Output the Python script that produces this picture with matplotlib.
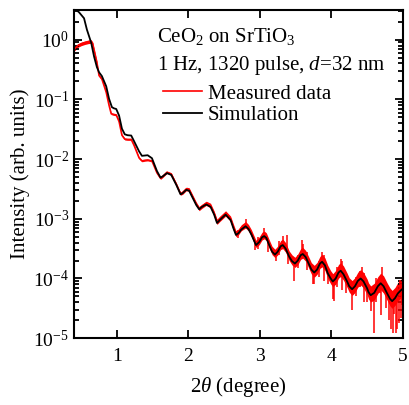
import matplotlib
matplotlib.use('Agg')
from matplotlib import pyplot as plt
from matplotlib.lines import Line2D
import numpy as np

# simulated curve, 2theta (deg) and log10(intensity)
sim_x = [0.40, 0.47, 0.54, 0.58, 0.64, 0.68, 0.72, 0.75, 0.79, 0.85, 0.89, 0.93, 0.96, 0.99,
         1.03, 1.07, 1.11, 1.15, 1.20, 1.24, 1.31, 1.35, 1.39, 1.43, 1.49, 1.56, 1.61, 1.64,
         1.70, 1.76, 1.83, 1.89, 1.92, 1.97, 2.01, 2.06, 2.11, 2.15, 2.19, 2.25, 2.31, 2.36,
         2.40, 2.44, 2.52, 2.59, 2.63, 2.665, 2.70, 2.74, 2.80, 2.84, 2.88, 2.945, 2.99, 3.03,
         3.06, 3.09, 3.13, 3.17, 3.21, 3.25, 3.29, 3.32, 3.36, 3.41, 3.45, 3.49, 3.53, 3.57,
         3.60, 3.64, 3.69, 3.72, 3.76, 3.80, 3.84, 3.87, 3.91, 3.95, 3.99, 4.02, 4.06, 4.10,
         4.13, 4.17, 4.22, 4.25, 4.29, 4.33, 4.37, 4.41, 4.45, 4.50, 4.52, 4.55, 4.60, 4.65,
         4.69, 4.73, 4.78, 4.82, 4.85, 4.89, 4.93, 4.97, 5.00]
sim_logI = [0.53, 0.46, 0.36, 0.17, -0.05, -0.28, -0.46, -0.545, -0.61, -0.78, -0.99, -1.13, -1.15, -1.16,
            -1.27, -1.49, -1.585, -1.60, -1.605, -1.70, -1.87, -1.945, -1.94, -1.935, -1.985, -2.20, -2.31, -2.29,
            -2.235, -2.265, -2.43, -2.59, -2.57, -2.515, -2.53, -2.65, -2.77, -2.84, -2.80, -2.76, -2.80, -2.93,
            -3.07, -3.02, -2.93, -3.02, -3.16, -3.27, -3.24, -3.18, -3.125, -3.17, -3.26, -3.44, -3.39, -3.31,
            -3.29, -3.32, -3.44, -3.55, -3.60, -3.55, -3.46, -3.44, -3.50, -3.635, -3.71, -3.75, -3.70, -3.61,
            -3.59, -3.64, -3.77, -3.85, -3.90, -3.85, -3.75, -3.72, -3.78, -3.915, -4.00, -4.05, -4.00, -3.90,
            -3.87, -3.93, -4.05, -4.13, -4.18, -4.13, -4.04, -4.00, -4.05, -4.165, -4.23, -4.28, -4.24, -4.13,
            -4.08, -4.13, -4.25, -4.34, -4.38, -4.33, -4.25, -4.20, -4.17]

# measured data: centre of the red trace and its noise half-width (decades)
meas_x = [0.40, 0.45, 0.50, 0.55, 0.60, 0.64, 0.66, 0.68, 0.72, 0.75, 0.79, 0.85, 0.89, 0.92,
          0.95, 0.99, 1.03, 1.07, 1.11, 1.15, 1.20, 1.24, 1.31, 1.35, 1.39, 1.43, 1.49, 1.56,
          1.61, 1.64, 1.70, 1.76, 1.83, 1.89, 1.92, 1.97, 2.01, 2.06, 2.11, 2.15, 2.19, 2.25,
          2.31, 2.36, 2.40, 2.44, 2.52, 2.59, 2.63, 2.665, 2.70, 2.74, 2.80, 2.84, 2.88, 2.945,
          2.99, 3.03, 3.06, 3.09, 3.13, 3.17, 3.21, 3.25, 3.29, 3.32, 3.36, 3.41, 3.45, 3.49,
          3.53, 3.57, 3.60, 3.64, 3.69, 3.72, 3.76, 3.80, 3.84, 3.87, 3.91, 3.95, 3.99, 4.02,
          4.06, 4.10, 4.13, 4.17, 4.22, 4.25, 4.29, 4.33, 4.37, 4.41, 4.45, 4.50, 4.52, 4.55,
          4.60, 4.65, 4.69, 4.73, 4.78, 4.82, 4.85, 4.89, 4.93, 4.97, 5.00]
meas_logI = [-0.165, -0.10, -0.07, -0.05, -0.035, -0.03, -0.06, -0.165, -0.38, -0.60, -0.66, -0.88, -1.10, -1.24,
             -1.25, -1.26, -1.37, -1.60, -1.665, -1.67, -1.67, -1.77, -1.98, -2.03, -2.02, -2.015, -2.03, -2.23,
             -2.32, -2.29, -2.22, -2.25, -2.42, -2.58, -2.56, -2.50, -2.51, -2.63, -2.75, -2.83, -2.79, -2.74,
             -2.78, -2.91, -3.05, -3.00, -2.91, -3.00, -3.14, -3.25, -3.22, -3.15, -3.10, -3.15, -3.24, -3.42,
             -3.37, -3.29, -3.27, -3.30, -3.42, -3.53, -3.58, -3.53, -3.44, -3.42, -3.48, -3.62, -3.69, -3.73,
             -3.68, -3.59, -3.57, -3.62, -3.75, -3.83, -3.88, -3.83, -3.73, -3.70, -3.76, -3.89, -3.98, -4.03,
             -3.98, -3.88, -3.85, -3.91, -4.03, -4.11, -4.16, -4.11, -4.02, -3.98, -4.03, -4.14, -4.21, -4.26,
             -4.22, -4.11, -4.05, -4.10, -4.22, -4.31, -4.35, -4.30, -4.22, -4.17, -4.14]
meas_noise = [0.03, 0.03, 0.03, 0.03, 0.03, 0.03, 0.02, 0.015, 0.015, 0.015, 0.015, 0.015, 0.015, 0.015,
              0.015, 0.015, 0.015, 0.015, 0.015, 0.015, 0.015, 0.015, 0.015, 0.015, 0.015, 0.015, 0.015, 0.015,
              0.02, 0.02, 0.02, 0.02, 0.025, 0.025, 0.03, 0.03, 0.03, 0.03, 0.03, 0.035, 0.035, 0.035,
              0.04, 0.04, 0.045, 0.045, 0.045, 0.045, 0.05, 0.05, 0.05, 0.05, 0.055, 0.055, 0.06, 0.06,
              0.065, 0.065, 0.065, 0.065, 0.07, 0.07, 0.07, 0.075, 0.075, 0.08, 0.08, 0.08, 0.085, 0.085,
              0.09, 0.09, 0.09, 0.09, 0.095, 0.095, 0.10, 0.10, 0.10, 0.105, 0.105, 0.11, 0.11, 0.11,
              0.115, 0.115, 0.115, 0.12, 0.12, 0.12, 0.125, 0.125, 0.125, 0.13, 0.13, 0.13, 0.135, 0.135,
              0.14, 0.14, 0.14, 0.145, 0.145, 0.15, 0.15, 0.15, 0.155, 0.155, 0.155]

# noise spikes in the measured data: position, bottom, top (log10)
spike_x = [2.93, 3.22, 3.48, 3.76, 4.035, 4.29, 4.59, 4.69, 4.83, 4.90, 4.97,
           2.81, 3.06, 3.32, 3.60, 3.87, 4.13, 4.43, 4.71, 4.96, 4.45, 4.15, 3.90,
           2.70, 2.98, 3.12, 3.27, 3.38, 3.40, 3.54, 3.59, 3.66, 3.74, 3.82, 3.95, 4.02, 4.08,
           4.20, 4.34, 4.40, 4.50, 4.56, 4.63, 4.68, 4.76, 4.80, 4.86, 4.88, 4.92, 4.94, 4.99]
spike_lo = [-3.52, -3.70, -4.05, -4.10, -4.38, -4.53, -4.91, -4.62, -4.84, -4.91, -4.66,
            -3.15, -3.30, -3.45, -3.60, -3.75, -3.90, -4.02, -4.10, -4.30, -4.40, -4.20, -4.05,
            -3.32, -3.50, -3.55, -3.60, -3.50, -3.75, -3.82, -3.65, -3.85, -4.10, -3.98, -4.10, -4.35, -4.15,
            -4.25, -4.30, -4.15, -4.40, -4.55, -4.40, -4.25, -4.50, -4.70, -4.91, -4.60, -4.84, -4.75, -4.45]
spike_hi = [-3.40, -3.55, -3.70, -3.85, -4.00, -4.15, -4.25, -4.10, -4.30, -4.35, -4.10,
            -3.01, -3.16, -3.29, -3.42, -3.55, -3.67, -3.80, -3.80, -4.02, -3.90, -3.70, -3.60,
            -3.18, -3.30, -3.35, -3.38, -3.27, -3.52, -3.60, -3.36, -3.55, -3.85, -3.70, -3.82, -4.00, -3.80,
            -3.90, -3.98, -3.88, -4.05, -4.15, -4.00, -3.97, -4.10, -4.25, -4.30, -4.25, -4.35, -4.15, -4.05]

plt.rcParams['font.family'] = ['Liberation Serif', 'DejaVu Serif']
plt.rcParams['mathtext.fontset'] = 'custom'
plt.rcParams['mathtext.rm'] = 'Liberation Serif'
plt.rcParams['mathtext.it'] = 'Liberation Serif:italic'
plt.rcParams['font.size'] = 14

fig = plt.figure(figsize=(4.09, 4.05), dpi=100)
ax = fig.add_axes([0.181, 0.165, 0.804, 0.81])

mx = np.array(meas_x)
my = np.array(meas_logI)
mn = np.array(meas_noise)
ax.fill_between(mx, 10 ** (my - mn), 10 ** (my + mn), color='red', lw=0)
ax.vlines(spike_x, 10 ** np.array(spike_lo), 10 ** np.array(spike_hi), color='red', lw=1.1)
ax.plot(mx, 10 ** my, color='red', lw=1.2)
ax.plot(sim_x, 10 ** np.array(sim_logI), color='black', lw=1.3)

ax.set_yscale('log')
ax.set_xlim(0.4, 5)
ax.set_ylim(1e-5, 10 ** 0.496)
ax.set_xticks([1, 2, 3, 4, 5])
ax.yaxis.set_major_locator(matplotlib.ticker.LogLocator(base=10, numticks=10))
ax.yaxis.set_minor_locator(matplotlib.ticker.LogLocator(base=10, subs=np.arange(2, 10), numticks=20))
ax.yaxis.set_minor_formatter(matplotlib.ticker.NullFormatter())
ax.tick_params(which='both', direction='in', top=True, right=True, width=1.3)
ax.tick_params(which='major', length=6, labelsize=14)
ax.tick_params(which='minor', length=3.5)
ax.tick_params(axis='x', pad=7)
for s in ax.spines.values():
    s.set_linewidth(1.5)

ax.set_xlabel(r'2$\theta$ (degree)', fontsize=15, labelpad=7)
ax.set_ylabel('Intensity (arb. units)', fontsize=15, labelpad=2)

ax.text(0.252, 0.903, r'CeO$_2$ on SrTiO$_3$', transform=ax.transAxes, fontsize=15, va='baseline')
ax.text(0.252, 0.817, r'1 Hz, 1320 pulse, $d$=32 nm', transform=ax.transAxes, fontsize=15, va='baseline')

handles = [Line2D([], [], color='red', lw=1.2), Line2D([], [], color='black', lw=1.3)]
ax.legend(handles, ['Measured data', 'Simulation'], loc='center left', bbox_to_anchor=(0.27, 0.712),
          frameon=False, fontsize=15, handlelength=1.9, handletextpad=0.25, labelspacing=0.1,
          borderpad=0, borderaxespad=0)

fig.savefig('out.png', dpi=100)
